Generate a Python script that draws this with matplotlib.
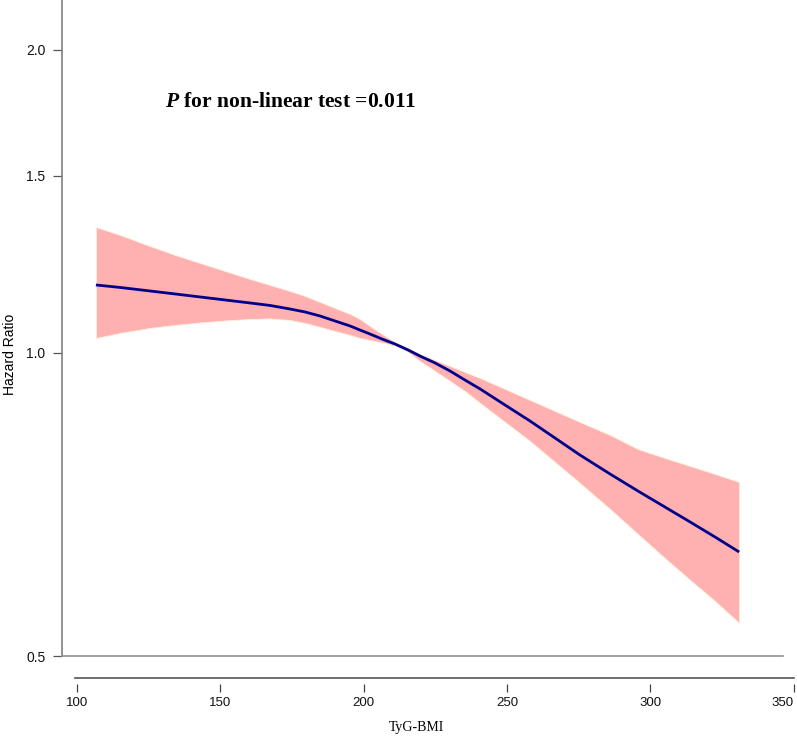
import matplotlib
matplotlib.use("Agg")
import matplotlib.pyplot as plt

# ---- data ----
tyg_bmi = [106.7, 115.1, 125.5, 134.3, 143.0, 151.7, 160.4, 167.4, 174.3, 179.6,
           184.8, 190.0, 195.3, 198.7, 202.2, 206.4, 210.9, 215.5, 219.6, 224.9,
           230.1, 235.3, 240.6, 249.3, 258.0, 266.7, 275.4, 285.9, 295.6, 305.0,
           313.8, 322.5, 330.9]
hr = [1.1683, 1.1617, 1.1524, 1.1445, 1.1367, 1.1289, 1.1212, 1.1148, 1.1059, 1.0983,
      1.0883, 1.0760, 1.0637, 1.0540, 1.0444, 1.0325, 1.0208, 1.0069, 0.9932, 0.9774,
      0.9597, 0.9401, 0.9210, 0.8878, 0.8559, 0.8233, 0.7919, 0.7582, 0.7293, 0.7031,
      0.6794, 0.6564, 0.6343]
hr_upper = [1.3341, 1.3099, 1.2773, 1.2513, 1.2286, 1.2063, 1.1845, 1.1683, 1.1524, 1.1393,
            1.1237, 1.1084, 1.0933, 1.0809, 1.0637, 1.0444, 1.0255, 1.0115, 0.9977, 0.9841,
            0.9707, 0.9575, 0.9444, 0.9210, 0.8981, 0.8757, 0.8540, 0.8290, 0.8028, 0.7865,
            0.7722, 0.7582, 0.7445]
hr_lower = [1.0349, 1.0468, 1.0589, 1.0662, 1.0723, 1.0772, 1.0809, 1.0821, 1.0784, 1.0710,
            1.0613, 1.0516, 1.0420, 1.0349, 1.0302, 1.0243, 1.0173, 1.0023, 0.9819, 0.9597,
            0.9380, 0.9167, 0.8919, 0.8540, 0.8176, 0.7793, 0.7428, 0.6999, 0.6610, 0.6256,
            0.5950, 0.5670, 0.5392]
y_ticks = [0.5, 1.0, 1.5, 2.0]
y_ticklabels = ["0.5", "1.0", "1.5", "2.0"]
x_ticks = [100, 150, 200, 250, 300, 350]
x_ticklabels = ["100", "150", "200", "250", "300", "350"]
p_text = r"$P$ for non-linear test =0.011"

plt.rcParams['mathtext.fontset'] = 'custom'
plt.rcParams['mathtext.it'] = 'Liberation Serif:bold:italic'
plt.rcParams['mathtext.rm'] = 'Liberation Serif:bold'
plt.rcParams['mathtext.bf'] = 'Liberation Serif:bold'

W, H = 797, 748
fig = plt.figure(figsize=(W / 100, H / 100), dpi=100)

# main axes (pixel box: x 62..783, y 0..656)
ax = fig.add_axes([62 / W, (H - 656) / H, (783 - 62) / W, 656 / H])
ax.set_yscale('log')
ax.set_xlim(94.88, 346.18)
ax.set_ylim(0.5, 2.242)

ax.fill_between(tyg_bmi, hr_lower, hr_upper, color='#ffb0b0', edgecolor='#fff0d8',
                linewidth=0.6, zorder=1)
ax.plot(tyg_bmi, hr, color='#00008b', linewidth=2.0, zorder=2,
        solid_capstyle='butt', solid_joinstyle='round')

for s in ['top', 'right']:
    ax.spines[s].set_visible(False)
ax.spines['left'].set_color('#808080')
ax.spines['bottom'].set_color('#909090')
ax.spines['left'].set_linewidth(1.2)
ax.spines['bottom'].set_linewidth(1.2)

ax.yaxis.set_major_locator(matplotlib.ticker.FixedLocator(y_ticks))
ax.yaxis.set_major_formatter(matplotlib.ticker.FixedFormatter(y_ticklabels))
ax.yaxis.set_minor_locator(matplotlib.ticker.NullLocator())
ax.tick_params(axis='y', which='major', length=6.5, width=0.9, color='#555555',
               pad=5.5, labelsize=10, labelcolor='#111111')
for lab in ax.get_yticklabels():
    lab.set_fontfamily('Liberation Sans')
ax.set_xticks([])

fig.text(10 / W, 1 - 354 / H, 'Hazard Ratio', fontfamily='Liberation Sans',
         fontsize=10, rotation=90, ha='center', va='center')

ax.text((165 - 62) / (783 - 62), (656 - 107) / 656, p_text,
        transform=ax.transAxes, fontfamily='Liberation Serif', fontweight='bold',
        fontsize=15.5, ha='left', va='baseline')

# separate x axis (line at y=678, ticks start at y=684)
axb = fig.add_axes([75 / W, (H - 684) / H, (794 - 75) / W, 6 / H])
axb.set_xlim(99.41, 350.07)
axb.set_ylim(0, 1)
axb.patch.set_visible(False)
for s in ['left', 'right', 'bottom']:
    axb.spines[s].set_visible(False)
axb.spines['top'].set_color('#555555')
axb.spines['top'].set_linewidth(1.2)
axb.set_yticks([])
axb.set_xticks(x_ticks)
axb.set_xticklabels(x_ticklabels)
axb.tick_params(axis='x', length=6, width=0.9, color='#444444', pad=3,
                labelsize=9.5, labelcolor='#111111')
xlabs = axb.get_xticklabels()
for lab in xlabs:
    lab.set_fontfamily('Liberation Sans')
xlabs[-1].set_horizontalalignment('right')

fig.text(416 / W, 1 - 727 / H, 'TyG-BMI', fontfamily='Liberation Serif',
         fontsize=10, ha='center', va='center')

fig.savefig('out.png', dpi=100)
